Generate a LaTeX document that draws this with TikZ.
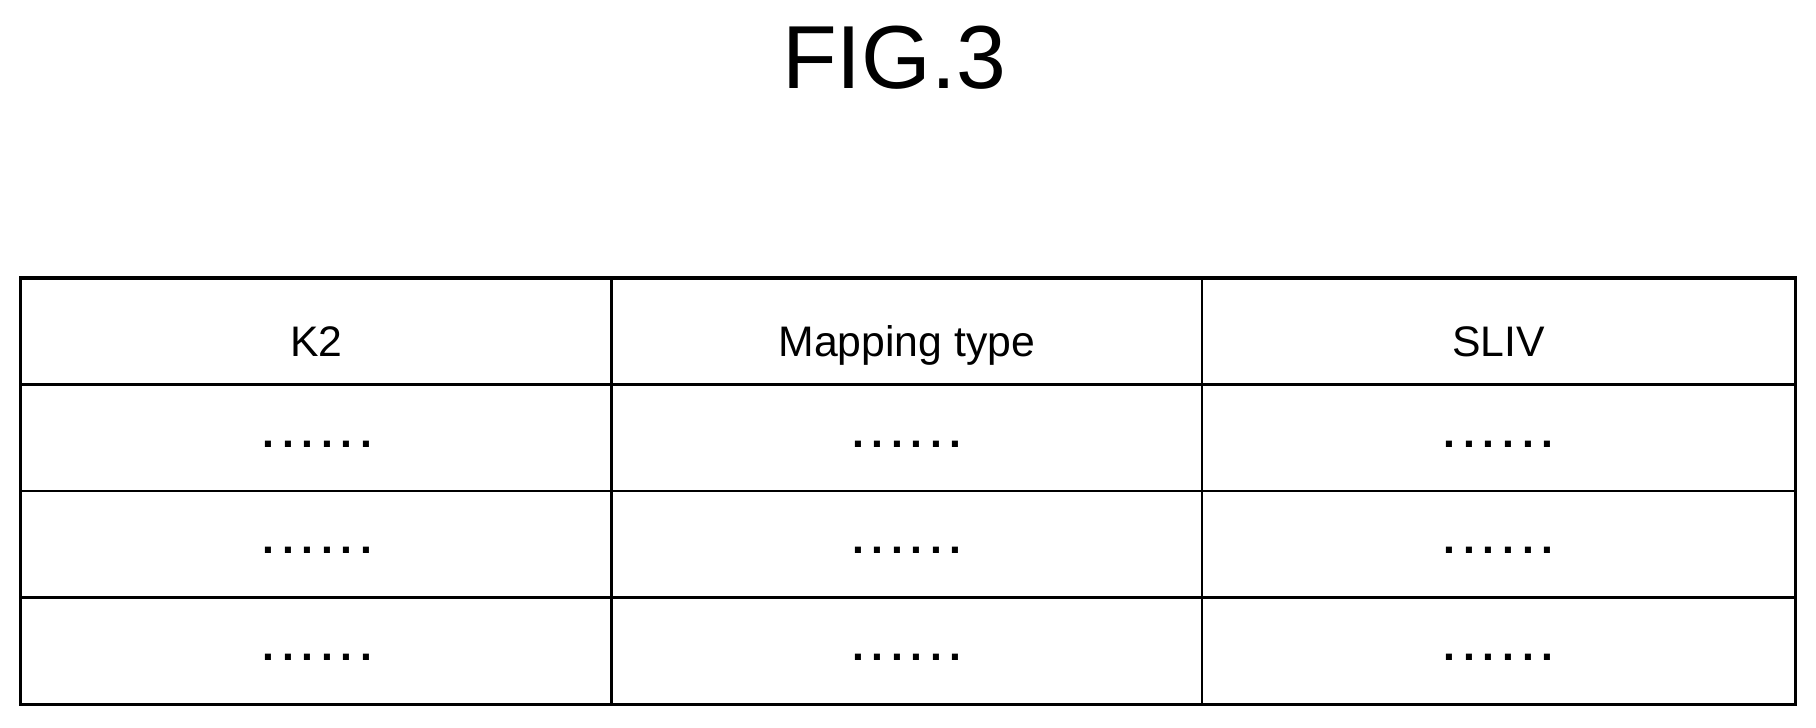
\documentclass[tikz,border=0pt]{standalone}
\usepackage{fontspec}
\setmainfont{Liberation Sans}
\usepackage{tikz}
\usetikzlibrary{calc}
\newcommand{\dotrow}{.\hspace{0.18em}.\hspace{0.18em}.\hspace{0.18em}.\hspace{0.18em}.\hspace{0.18em}.}

\begin{document}
\begin{tikzpicture}[x=0.02cm,y=-0.02cm,
        cell/.style={font=\fontsize{21}{24}\selectfont,anchor=base},
        gap/.style={font=\fontsize{21}{24}\selectfont\bfseries,anchor=base}]
            \useasboundingbox (0,0) rectangle (1568,628);
            \node[font=\fontsize{44}{50}\selectfont,anchor=base] (title) at (772,76) {FIG.3};
            % table frame
            \draw[line width=1.6pt] (18,240) rectangle (1550,608);
            \draw[line width=1.4pt] (18,332) -- (1550,332) (18,424) -- (1550,424) (18,516) -- (1550,516);
            \draw[line width=1.2pt] (528,240) -- (528,608) (1038,240) -- (1038,608);
            \node[cell] (k2) at (273,308) {K2};
            \node[cell] (map) at (783,308) {Mapping type};
            \node[cell] (sliv) at (1294,308) {SLIV};
            \foreach \r/\y in {1/386,2/478,3/570}
                \foreach \c/\x in {a/274,b/783,c/1294}
                    \node[gap] (d\c\r) at (\x,\y) {\dotrow};
        \end{tikzpicture}
\end{document}
